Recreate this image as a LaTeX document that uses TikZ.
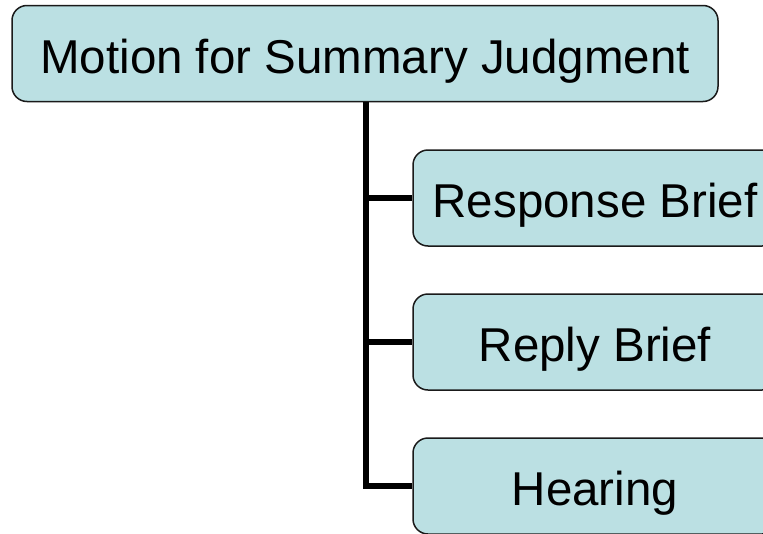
\documentclass[tikz,border=0pt]{standalone}
\usepackage{fontspec}
\setmainfont{Liberation Sans}
\definecolor{boxfill}{HTML}{BBE0E3}
\definecolor{boxline}{HTML}{1A1A1A}
\begin{document}
\begin{tikzpicture}[x=1pt,y=-1pt,
  box/.style={draw=boxline, line width=1.5pt, fill=boxfill, rounded corners=15pt,
    inner sep=0pt, minimum height=96pt,
    font=\fontsize{47.5}{50}\selectfont, text height=39pt, text depth=0pt},
  link/.style={draw=black, line width=5.5pt}]
\useasboundingbox (0,0) rectangle (763,533);
\clip (0,0) rectangle (763,533);
\node[box, minimum width=706pt] (top) at (365,53.5) {Motion for Summary Judgment};
\node[box, minimum width=364pt] (c1) at (595,198) {Response Brief};
\node[box, minimum width=364pt] (c2) at (595,342) {Reply Brief};
\node[box, minimum width=364pt] (c3) at (595,486) {Hearing};
\coordinate (v) at (366,0);
\draw[link] (top.south -| v) |- (c1.west);
\draw[link] (top.south -| v) |- (c2.west);
\draw[link] (top.south -| v) |- (c3.west);
\end{tikzpicture}
\end{document}
